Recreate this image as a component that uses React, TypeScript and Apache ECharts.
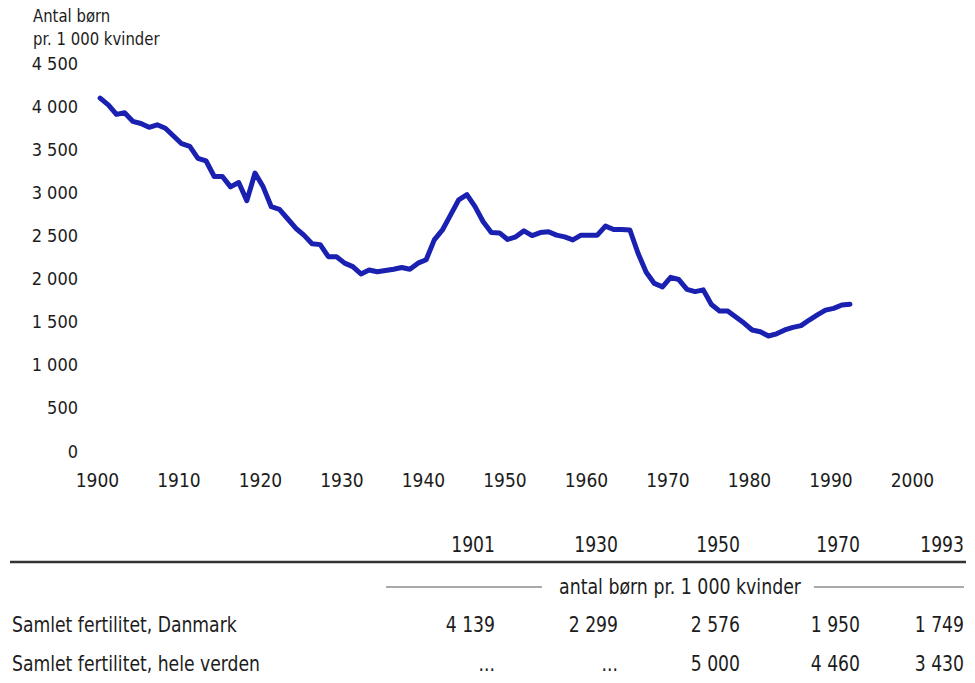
import React, { useEffect, useRef } from "react";
import * as echarts from "echarts";

const startYear = 1901;
const fertility = [
  4139, 4060, 3950, 3970, 3870, 3845, 3800, 3830, 3790, 3700,
  3610, 3580, 3440, 3410, 3230, 3230, 3110, 3160, 2950, 3270,
  3110, 2880, 2850, 2740, 2630, 2550, 2450, 2440, 2300, 2299,
  2225, 2185, 2100, 2145, 2125, 2140, 2155, 2175, 2155, 2225,
  2265, 2495, 2610, 2785, 2960, 3020, 2880, 2705, 2580, 2576,
  2500, 2530, 2600, 2545, 2580, 2590, 2550, 2530, 2495, 2550,
  2550, 2550, 2655, 2615, 2615, 2610, 2340, 2120, 1990, 1950,
  2060, 2035, 1920, 1895, 1915, 1745, 1670, 1670, 1600, 1530,
  1450, 1430, 1380, 1405, 1450, 1480, 1500, 1565, 1625, 1680,
  1700, 1740, 1749,
];
const years = fertility.map((_, i) => startYear + i);

const tableYears = ["1901", "1930", "1950", "1970", "1993"];
const danmark = ["4 139", "2 299", "2 576", "1 950", "1 749"];
const verden = ["...", "...", "5 000", "4 460", "3 430"];
const rowLabels = ["Samlet fertilitet, Danmark", "Samlet fertilitet, hele verden"];
const unitLabel = "antal børn pr. 1 000 kvinder";
const yTitle = ["Antal børn", "pr. 1 000 kvinder"];

const FONT = "'Liberation Sans Narrow', 'DejaVu Sans Condensed', 'Liberation Sans', sans-serif";
const TXT = "#1c1c1c";

function fmt(v: number): string {
  if (v >= 1000) {
    return Math.floor(v / 1000) + " " + String(v % 1000).padStart(3, "0");
  }
  return String(v);
}

export default function App() {
  const ref = useRef<HTMLDivElement>(null);
  useEffect(() => {
    document.body.style.margin = "0";
    const chart = echarts.init(ref.current!, null, { renderer: "svg" });
    const colX = [495, 618, 740, 860, 964];
    const SX = 0.87;
    const tFont = `22px ${FONT}`;
    const graphics: any[] = [];
    yTitle.forEach((t, i) => {
      graphics.push({
        type: "text",
        x: 33,
        y: 16 + i * 23,
        scaleX: 0.92,
        style: { text: t, font: `18px ${FONT}`, fill: TXT, verticalAlign: "middle" },
      });
    });
    tableYears.forEach((t, i) => {
      graphics.push({
        type: "text",
        x: colX[i],
        y: 545,
        scaleX: SX,
        style: { text: t, font: tFont, fill: TXT, align: "right", verticalAlign: "middle" },
      });
      graphics.push({
        type: "text",
        x: colX[i],
        y: 625,
        scaleX: SX,
        style: { text: danmark[i], font: tFont, fill: TXT, align: "right", verticalAlign: "middle" },
      });
      graphics.push({
        type: "text",
        x: colX[i],
        y: 664,
        scaleX: SX,
        style: { text: verden[i], font: tFont, fill: TXT, align: "right", verticalAlign: "middle" },
      });
    });
    rowLabels.forEach((t, i) => {
      graphics.push({
        type: "text",
        x: 12,
        y: i === 0 ? 625 : 664,
        scaleX: SX,
        style: { text: t, font: tFont, fill: TXT, align: "left", verticalAlign: "middle" },
      });
    });
    graphics.push({
      type: "line",
      shape: { x1: 10, y1: 562, x2: 966, y2: 562 },
      style: { stroke: "#333", lineWidth: 2.5 },
    });
    graphics.push({
      type: "line",
      shape: { x1: 386, y1: 587, x2: 542, y2: 587 },
      style: { stroke: "#555", lineWidth: 1 },
    });
    graphics.push({
      type: "line",
      shape: { x1: 814, y1: 587, x2: 964, y2: 587 },
      style: { stroke: "#555", lineWidth: 1 },
    });
    graphics.push({
      type: "text",
      x: 680,
      y: 587,
      scaleX: 0.92,
      style: { text: unitLabel, font: `21px ${FONT}`, fill: TXT, align: "center", verticalAlign: "middle" },
    });

    chart.setOption({
      animation: false,
      backgroundColor: "#fff",
      grid: { left: 92, right: 68, top: 67, bottom: 228, containLabel: false },
      xAxis: {
        type: "value",
        min: 1900,
        max: 2000,
        interval: 10,
        axisLine: { show: false },
        axisTick: { show: false },
        splitLine: { show: false },
        axisLabel: {
          color: TXT,
          fontFamily: FONT,
          fontSize: 19,
          margin: 15,
          padding: [0, 0, 0, 11],
          formatter: (v: number) => String(v),
        },
      },
      yAxis: {
        type: "value",
        min: 0,
        max: 4500,
        interval: 500,
        axisLine: { show: false },
        axisTick: { show: false },
        splitLine: { show: false },
        axisLabel: {
          color: TXT,
          fontFamily: FONT,
          fontSize: 18,
          margin: 14,
          verticalAlign: "bottom",
          lineHeight: 8,
          formatter: (v: number) => fmt(v),
        },
      },
      series: [
        {
          type: "line",
          data: years.map((y, i) => [y, fertility[i]]),
          showSymbol: false,
          lineStyle: { color: "#1a20b0", width: 5, join: "round", cap: "round" },
        },
      ],
      graphic: graphics,
    });
    return () => chart.dispose();
  }, []);
  return <div ref={ref} style={{ width: 975, height: 683 }} />;
}
